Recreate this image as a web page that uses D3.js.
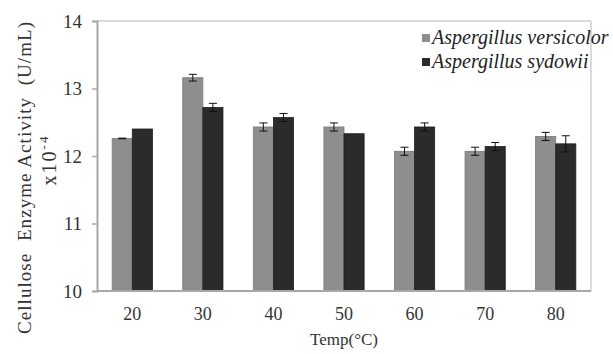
<!DOCTYPE html>
<html><head><meta charset="utf-8">
<script src="https://cdn.jsdelivr.net/npm/d3@7"></script>
<style>body{margin:0;background:#fff}</style>
</head><body>
<svg id="c" width="613" height="354"></svg>
<script>
const categories = ["20","30","40","50","60","70","80"];
const seriesNames = ["Aspergillus versicolor","Aspergillus sydowii"];
const versicolor = [12.26,13.16,12.43,12.43,12.07,12.07,12.29];
const versicolorErr = [0.005,0.05,0.06,0.06,0.06,0.06,0.06];
const sydowii = [12.40,12.72,12.57,12.33,12.43,12.14,12.18];
const sydowiiErr = [0,0.06,0.06,0,0.06,0.06,0.12];
const yTicks = [10,11,12,13,14];
const colors = ["#8e8e8e","#2b2b2b"];

const svg = d3.select("#c");
const L=97,R=591,T=21,B=291;
const FONT = "Liberation Serif";
const x = d3.scaleBand().domain(categories).range([L,R]).paddingInner(0.43).paddingOuter(0.215);
const xs = d3.scaleBand().domain([0,1]).range([0,x.bandwidth()]);
const y = d3.scaleLinear().domain([10,14]).range([B,T]);

// frame
svg.append("line").attr("x1",L).attr("x2",R).attr("y1",T).attr("y2",T).attr("stroke","#cfcfcf").attr("stroke-width",1.5);
svg.append("line").attr("x1",R).attr("x2",R).attr("y1",T).attr("y2",B).attr("stroke","#cfcfcf").attr("stroke-width",1.5);

const data = categories.map((c,i)=>({c, v:[versicolor[i],sydowii[i]], e:[versicolorErr[i],sydowiiErr[i]]}));
const g = svg.append("g").selectAll("g").data(data).join("g").attr("transform",d=>`translate(${x(d.c)},0)`);
[0,1].forEach(s=>{
  g.append("rect").attr("x",xs(s)).attr("width",xs.bandwidth()).attr("y",d=>y(d.v[s])).attr("height",d=>y(10)-y(d.v[s]))
   .attr("fill",colors[s]).attr("stroke",s===0?"#7a7a7a":"#1e1e1e").attr("stroke-width",0.8);
  const cx = xs(s)+xs.bandwidth()/2;
  const eg = g.filter(d=>d.e[s]>0);
  eg.append("line").attr("x1",cx).attr("x2",cx).attr("y1",d=>y(d.v[s]+d.e[s])).attr("y2",d=>y(d.v[s]-d.e[s])).attr("stroke","#111").attr("stroke-width",1);
  eg.append("line").attr("x1",cx-4).attr("x2",cx+4).attr("y1",d=>y(d.v[s]+d.e[s])).attr("y2",d=>y(d.v[s]+d.e[s])).attr("stroke","#111").attr("stroke-width",1);
  eg.append("line").attr("x1",cx-4).attr("x2",cx+4).attr("y1",d=>y(d.v[s]-d.e[s])).attr("y2",d=>y(d.v[s]-d.e[s])).attr("stroke","#111").attr("stroke-width",1);
});

// axes
const ya = svg.append("g").attr("transform",`translate(${L},0)`).call(d3.axisLeft(y).tickValues(yTicks).tickSize(5).tickPadding(10).tickFormat(d3.format("d")));
ya.attr("font-family",FONT);
ya.select(".domain").attr("stroke","#a8a8a8").attr("stroke-width",2);
ya.selectAll(".tick line").attr("stroke","#a8a8a8").attr("stroke-width",1.5);
ya.selectAll("text").attr("font-family",FONT).attr("font-size",19).attr("fill","#333");
const xa = svg.append("g").attr("transform",`translate(0,${B})`).call(d3.axisBottom(x).tickSize(0).tickPadding(16));
xa.attr("font-family",FONT);
xa.select(".domain").attr("stroke","#a8a8a8").attr("stroke-width",2).attr("d",`M${L},0H${R}`);
xa.selectAll("text").attr("font-family",FONT).attr("font-size",18).attr("fill","#333");

svg.append("text").attr("x",(L+R)/2).attr("y",345).attr("text-anchor","middle")
  .attr("font-family",FONT).attr("font-size",17).attr("fill","#333").text("Temp(°C)");

svg.append("text").attr("transform","translate(31,178) rotate(-90)").attr("text-anchor","middle")
  .attr("font-family",FONT).attr("font-size",19).attr("fill","#333").attr("xml:space","preserve")
  .attr("textLength",312).attr("lengthAdjust","spacing")
  .text("Cellulose  Enzyme Activity  (U/mL)");
const yt2 = svg.append("text").attr("transform","translate(56,160) rotate(-90)").attr("text-anchor","middle")
  .attr("font-family",FONT).attr("font-size",20).attr("fill","#333").attr("letter-spacing",2);
yt2.append("tspan").text("x10");
yt2.append("tspan").attr("dy",-8).attr("font-size",13).text("-4");

// legend
const leg = svg.append("g").selectAll("g").data(seriesNames).join("g").attr("transform",(d,i)=>`translate(422,${38+i*24})`);
leg.append("rect").attr("x",0).attr("y",-4).attr("width",8).attr("height",8).attr("fill",(d,i)=>colors[i]);
leg.append("text").attr("x",10).attr("y",6).attr("font-family",FONT).attr("font-style","italic").attr("font-size",20).attr("fill","#222").text(d=>d);
</script>
</body></html>
